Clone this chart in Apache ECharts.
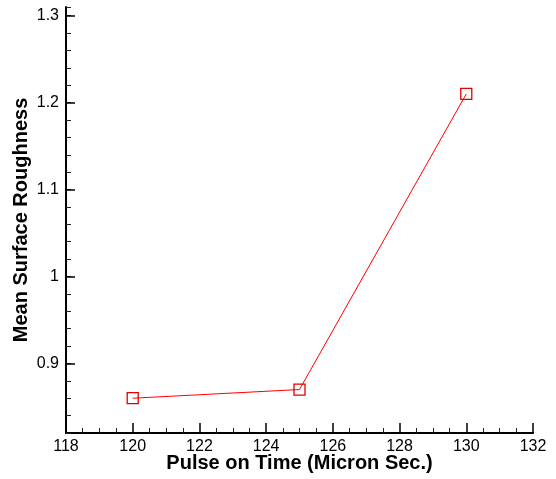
<!DOCTYPE html>
<html>
<head>
<meta charset="utf-8">
<script src="https://cdn.jsdelivr.net/npm/echarts@6/dist/echarts.min.js"></script>
<style>
  html, body { margin: 0; padding: 0; background: #fff; }
  #chart { width: 556px; height: 479px; }
</style>
</head>
<body>
<div id="chart"></div>
<script>
// data
var pulseOn = [120, 125, 130];
var roughness = [0.86, 0.87, 1.21];
var yMajor = [0.9, 1.0, 1.1, 1.2, 1.3];

var chart = echarts.init(document.getElementById('chart'));

var font = 'Liberation Sans, Arial, sans-serif';

var points = pulseOn.map(function (x, i) { return [x, roughness[i]]; });

chart.setOption({
    backgroundColor: '#fff',
    animation: false,
    grid: { left: 66, right: 23, top: 7, bottom: 46, outerBoundsMode: 'none', containLabel: false },
    xAxis: {
        type: 'value',
        min: 118,
        max: 132,
        interval: 2,
        name: 'Pulse on Time (Micron Sec.)',
        nameLocation: 'middle',
        nameGap: 20,
        nameMoveOverlap: false,
        nameTextStyle: { fontFamily: font, fontWeight: 'bold', fontSize: 20, color: '#000' },
        axisLine: { show: true, onZero: false, lineStyle: { color: '#000', width: 2 } },
        axisTick: { show: true, inside: true, length: 10, lineStyle: { color: '#000', width: 1.5 } },
        minorTick: { show: true, splitNumber: 4, length: 5, lineStyle: { color: '#222', width: 1 } },
        axisLabel: { margin: 6, fontFamily: font, fontSize: 16, color: '#000' },
        splitLine: { show: false }
    },
    yAxis: [{
        // minor ticks every 0.02
        type: 'value',
        min: 0.82,
        max: 1.31,
        interval: 0.02,
        position: 'left',
        axisLine: { show: true, onZero: false, lineStyle: { color: '#000', width: 2 } },
        axisTick: { show: true, inside: true, length: 5, lineStyle: { color: '#222', width: 1 } },
        axisLabel: { show: false },
        splitLine: { show: false }
    }, {
        // major ticks and labels
        type: 'value',
        min: 0.82,
        max: 1.31,
        position: 'left',
        name: 'Mean Surface Roughness',
        nameLocation: 'middle',
        nameGap: 35,
        nameMoveOverlap: false,
        nameTextStyle: { fontFamily: font, fontWeight: 'bold', fontSize: 20, color: '#000' },
        axisLine: { show: false },
        axisTick: { show: true, inside: true, length: 9, customValues: yMajor, lineStyle: { color: '#000', width: 1.5 } },
        axisLabel: {
            customValues: yMajor,
            margin: 7,
            fontFamily: font,
            fontSize: 16,
            color: '#000',
            formatter: function (v) { return String(+v.toFixed(1)); }
        },
        splitLine: { show: false }
    }],
    series: [{
        type: 'line',
        yAxisIndex: 0,
        data: points,
        symbol: 'rect',
        symbolSize: 11,
        lineStyle: { color: '#ff0000', width: 1 },
        itemStyle: { color: 'rgba(255,255,255,0)', borderColor: '#e00000', borderWidth: 1.3 },
        z: 3
    }]
});
</script>
</body>
</html>
